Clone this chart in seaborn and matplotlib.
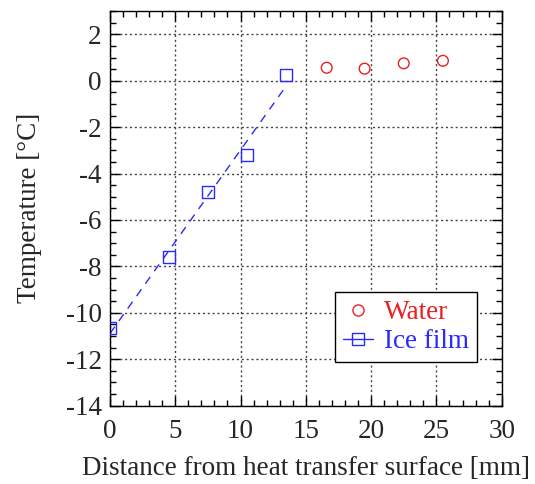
import numpy as np
import pandas as pd
import matplotlib
matplotlib.use("Agg")
import matplotlib.pyplot as plt
import seaborn as sns
from matplotlib.lines import Line2D
from matplotlib.ticker import MultipleLocator

water_x = [16.6, 19.5, 22.5, 25.5]
water_y = [0.56, 0.52, 0.75, 0.86]
ice_x = [0.0, 4.5, 7.5, 10.5, 13.5]
ice_y = [-10.65, -7.6, -4.8, -3.2, 0.25]

water = pd.DataFrame({"x": water_x, "y": water_y})
ice = pd.DataFrame({"x": ice_x, "y": ice_y})

sns.set_style("ticks")
plt.rcParams["font.family"] = ["Liberation Serif", "DejaVu Serif"]
plt.rcParams["axes.unicode_minus"] = False

red = "#e82020"
blue = "#2a2aff"
fs = 19.5

fig = plt.figure(figsize=(5.35, 4.84), dpi=100)
ax = fig.add_axes([0.2056, 0.162, 0.7321, 0.815])

sns.regplot(data=ice, x="x", y="y", scatter=False, ci=None, truncate=True,
            line_kws=dict(color=blue, lw=1, ls=(0, (6, 5))), ax=ax)
sns.scatterplot(data=ice, x="x", y="y", marker="s", s=80, facecolor="none",
                edgecolor=blue, linewidth=1, ax=ax, zorder=3)
sns.scatterplot(data=water, x="x", y="y", marker="o", s=60, facecolor="none",
                edgecolor=red, linewidth=1, ax=ax, zorder=3)

ax.set_xlim(0, 30)
ax.set_ylim(-14, 3)
ax.xaxis.set_major_locator(MultipleLocator(5))
ax.xaxis.set_minor_locator(MultipleLocator(1))
ax.yaxis.set_major_locator(MultipleLocator(2))
ax.yaxis.set_minor_locator(MultipleLocator(0.5))
ax.tick_params(which="both", direction="in", top=True, right=True, labelsize=fs,
               color="black", width=1)
ax.tick_params(which="major", length=7)
ax.tick_params(which="minor", length=4)
ax.tick_params(axis="x", which="major", pad=10)
ax.tick_params(axis="y", which="major", pad=6)
ax.grid(True, which="major", color="#444444", ls=(0, (1.5, 2)), lw=1)
for s in ax.spines.values():
    s.set_color("black")
    s.set_linewidth(1)

ax.set_xlabel("Distance from heat transfer surface [mm]", fontsize=fs, labelpad=8)
ax.set_ylabel("Temperature [\u00b0C]", fontsize=fs, labelpad=17)

handles = [
    Line2D([], [], marker="o", ls="none", mfc="none", mec=red, ms=8, mew=1),
    Line2D([], [], marker="s", ls="-", color=blue, mfc="none", mec=blue, ms=8, mew=1, lw=1),
]
leg = ax.legend(handles, ["Water", "Ice film"], loc="lower right",
                bbox_to_anchor=(0.937, 0.11), borderaxespad=0, fontsize=fs,
                labelcolor=[red, blue], frameon=True, fancybox=False, framealpha=1,
                edgecolor="black", handlelength=1.1, handletextpad=0.4,
                borderpad=0.3, labelspacing=0.15)
leg.get_frame().set_linewidth(1)

fig.savefig("out.png", dpi=100)
